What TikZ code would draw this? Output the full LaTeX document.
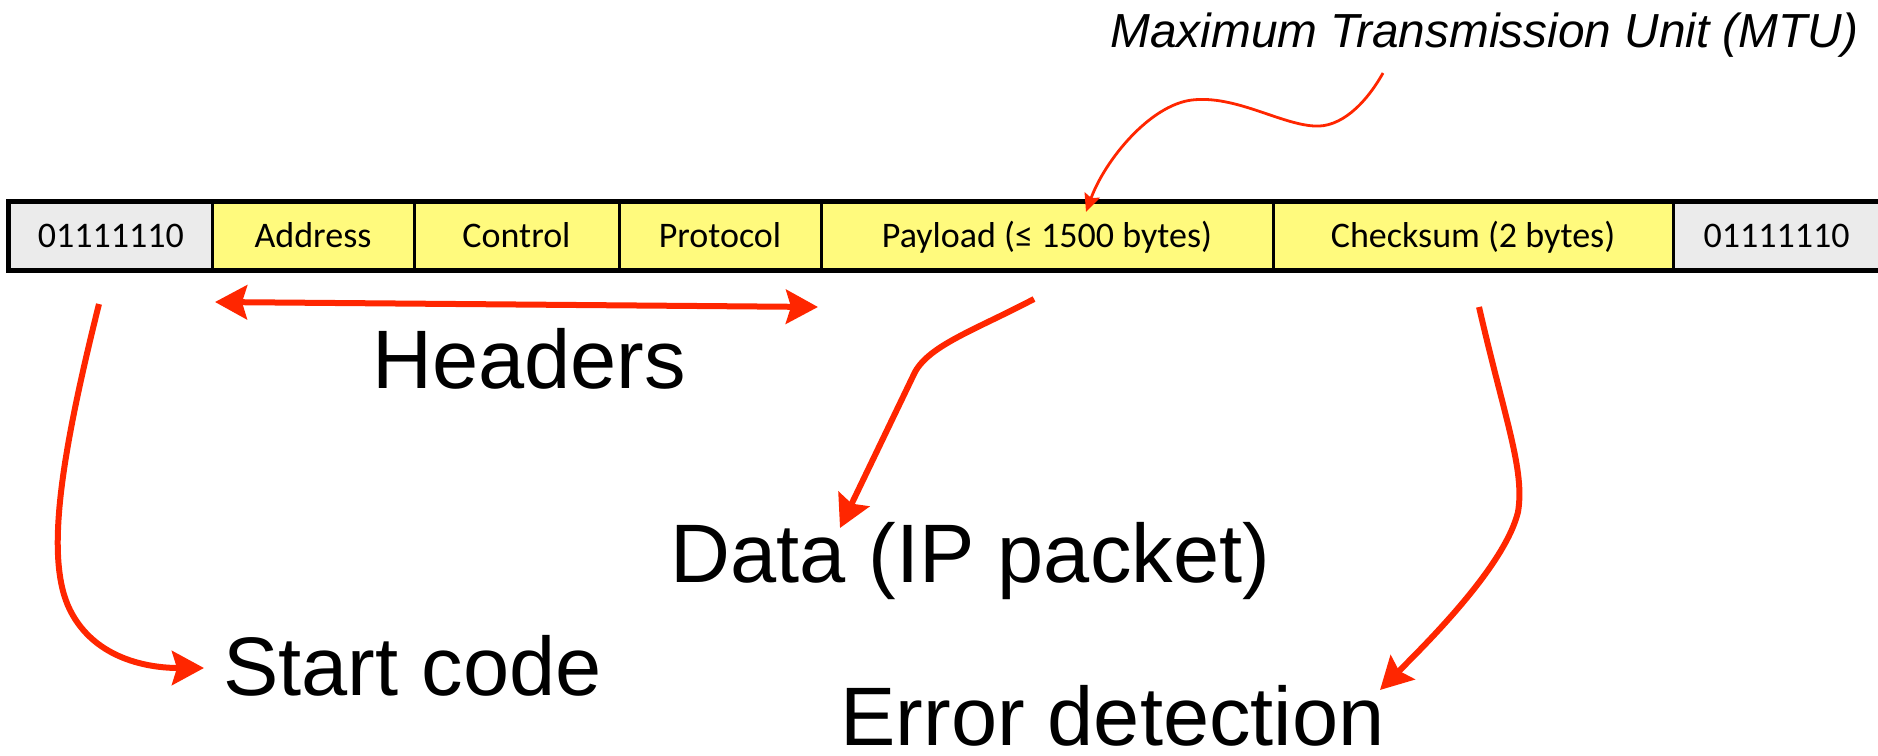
\documentclass[tikz,border=0pt]{standalone}
\usepackage{fontspec}
\setmainfont{Liberation Sans}
\newfontfamily\cellfont{Carlito}
\usetikzlibrary{arrows.meta}
\definecolor{framegrey}{RGB}{235,235,235}
\definecolor{frameyellow}{RGB}{255,250,125}
\definecolor{arrowred}{RGB}{255,38,0}
\begin{document}
\begin{tikzpicture}[x=0.5pt,y=-0.5pt,
  cell/.style={draw, line width=1.5pt, minimum height=33.5pt, inner sep=0pt,
    font=\cellfont\fontsize{18}{20}\selectfont, text height=11.3pt, text depth=0pt},
  greycell/.style={cell, fill=framegrey},
  yellowcell/.style={cell, fill=frameyellow},
  biglabel/.style={anchor=base west, inner sep=0pt, font=\fontsize{41.5}{48}\selectfont},
  thickarrow/.style={draw=arrowred, line width=3pt, line cap=butt,
    -{Stealth[length=16pt,width=17pt,inset=2.5pt]}},
  thinarrow/.style={draw=arrowred, line width=1.4pt,
    -{Stealth[length=9pt,width=8pt,inset=1.5pt]}}]
\useasboundingbox (0,0) rectangle (1878,755);
% frame cells
\node[greycell, minimum width=101.25pt] (c1) at (110.75,236) {01111110};
\node[yellowcell, minimum width=101pt] (c2) at (313,236) {Address};
\node[yellowcell, minimum width=102.5pt] (c3) at (516.5,236) {Control};
\node[yellowcell, minimum width=101pt] (c4) at (720,236) {Protocol};
\node[yellowcell, minimum width=226pt] (c5) at (1047,236) {Payload (≤ 1500 bytes)};
\node[yellowcell, minimum width=200pt] (c6) at (1473,236) {Checksum (2 bytes)};
\node[greycell, minimum width=103.5pt] (c7) at (1776.5,236) {01111110};
\draw[line width=2pt] (c1.south west) rectangle (c7.north east);
% labels
\node[biglabel] (headers) at (372,388) {Headers};
\node[biglabel] (data) at (670,582) {Data (IP packet)};
\node[biglabel] (start) at (223,695) {Start code};
\node[biglabel, text depth=0pt] (error) at (840,745) {Error detection};
\node[anchor=base west, inner sep=0pt, font=\itshape\fontsize{23.9}{28}\selectfont] (mtu) at (1110,47) {Maximum Transmission Unit (MTU)};
% connector end points
\coordinate (hL) at (215,302);
\coordinate (hR) at (818,307);
\coordinate (sA) at (99,304);
\coordinate (sB) at (204,668);
\coordinate (dA) at (1034,299);
\coordinate (dB) at (840,528);
\coordinate (eA) at (1479,307);
\coordinate (eB) at (1380,690);
\coordinate (mA) at (1383,73);
\coordinate (mB) at (1086,212);
% arrows
\draw[draw=arrowred, line width=3pt,
  {Stealth[length=16pt,width=17pt,inset=2.5pt]}-{Stealth[length=16pt,width=17pt,inset=2.5pt]}] (hL) -- (hR);
\draw[thickarrow] (sA) .. controls (60,460) and (45,560) .. (70,610)
  .. controls (95,660) and (150,668) .. (sB);
\draw[thickarrow] (dA) .. controls (975,330) and (930,345) .. (915,372) -- (dB);
\draw[thickarrow] (eA) .. controls (1505,420) and (1525,470) .. (1518,512)
  .. controls (1505,565) and (1430,640) .. (eB);
\draw[thinarrow] (mA) .. controls (1365,105) and (1340,128) .. (1314,126)
  .. controls (1280,124) and (1235,95) .. (1192,100)
  .. controls (1150,105) and (1105,160) .. (mB);
\end{tikzpicture}
\end{document}
